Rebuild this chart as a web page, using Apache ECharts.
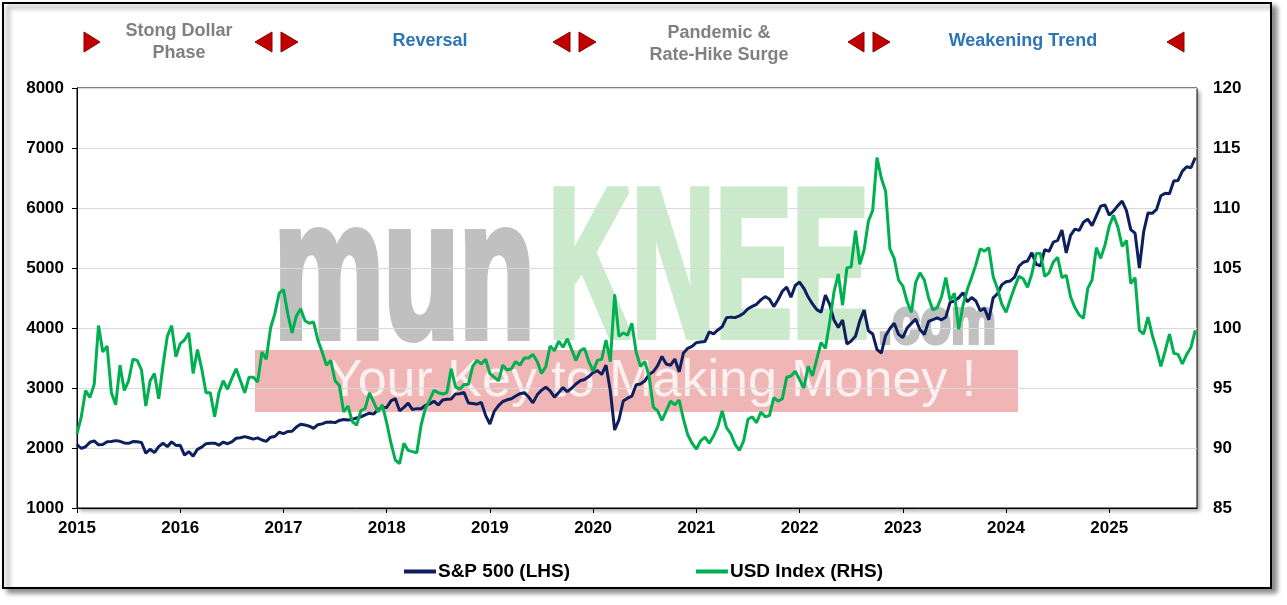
<!DOCTYPE html>
<html>
<head>
<meta charset="utf-8">
<script src="https://cdn.jsdelivr.net/npm/echarts@6/dist/echarts.min.js"></script>
<style>
html,body{margin:0;padding:0;background:#fff;}
#chart{width:1287px;height:605px;}
</style>
</head>
<body>
<div id="chart"></div>
<script>
// Observations: semi-monthly (1st and 15th of each month), Jan 2015 – Nov 2025
const startYear = 2015;
const obsPerYear = 24;

// S&P 500 (left axis)
const spx = [
  // 2015
  2058,1992,2021,2096,2117,2053,2060,2106,2108,2123,2111,2085,2077,2108,2104,2092,1914,1979,1923,2023,2079,2023,2102,2043,
  // 2016
  2044,1880,1940,1864,1978,2015,2072,2081,2081,2047,2099,2071,2103,2162,2170,2190,2170,2147,2168,2133,2111,2180,2191,2262,
  // 2017
  2239,2275,2279,2349,2396,2385,2363,2328,2388,2402,2431,2432,2423,2459,2476,2465,2476,2500,2519,2553,2580,2565,2642,2675,
  // 2018
  2674,2786,2823,2620,2678,2747,2641,2656,2654,2711,2735,2779,2718,2801,2813,2818,2902,2905,2924,2750,2740,2730,2760,2545,
  // 2019
  2400,2610,2706,2775,2803,2822,2867,2905,2923,2850,2752,2886,2964,3014,2953,2848,2926,3007,2940,2995,3067,3120,3141,3191,
  // 2020
  3258,3289,3225,3380,2954,2300,2470,2783,2830,2864,3055,3067,3115,3226,3271,3373,3526,3401,3380,3483,3270,3585,3662,3695,
  // 2021
  3756,3768,3773,3934,3901,3968,4020,4170,4181,4173,4202,4246,4320,4360,4395,4468,4524,4480,4357,4471,4613,4682,4513,4709,
  // 2022
  4766,4662,4516,4401,4306,4262,4546,4393,4132,4008,4132,3735,3785,3863,4118,4297,3955,3901,3640,3583,3872,3992,4080,3895,
  // 2023
  3840,3999,4077,4147,3970,3891,4109,4138,4169,4136,4180,4426,4450,4505,4589,4437,4508,4450,4288,4328,4137,4502,4568,4719,
  // 2024
  4770,4784,4846,5029,5096,5117,5254,5062,5036,5308,5278,5431,5460,5631,5250,5543,5648,5626,5762,5815,5705,5870,6032,6051,
  // 2025
  5882,5950,6040,6115,5955,5639,5580,5000,5604,5916,5912,5977,6205,6244,6238,6450,6460,6615,6688,6671,6840
];

// USD Index (right axis)
const usd = [
  // 2015
  91.2,92.6,94.8,94.2,95.3,100.2,98.0,98.5,94.6,93.6,96.9,94.8,95.6,97.4,97.3,96.5,93.5,95.6,96.2,94.1,96.9,99.3,100.2,97.6,
  // 2016
  98.7,99.0,99.6,96.2,98.2,96.6,94.6,94.6,92.6,94.6,95.6,94.9,95.8,96.6,95.6,94.6,95.9,95.9,95.5,98.0,97.4,100.0,101.2,102.9,
  // 2017
  103.2,101.2,99.6,101.0,101.6,100.6,100.4,100.5,99.0,98.0,96.9,97.3,95.6,95.2,93.0,93.5,92.2,91.9,93.1,93.3,94.6,93.8,93.0,93.6,
  // 2018
  92.1,90.4,89.0,88.7,90.4,89.8,89.7,89.6,91.9,93.3,94.0,94.8,94.6,94.5,94.6,96.6,95.1,94.9,95.3,95.3,96.8,97.3,97.0,97.4,
  // 2019
  96.2,95.9,95.6,96.9,96.5,96.6,97.2,96.9,97.5,97.5,97.8,97.2,96.2,96.8,98.5,98.1,98.9,98.4,99.1,98.2,97.3,98.1,98.3,97.2,
  // 2020
  96.4,97.3,97.4,99.0,97.2,102.8,99.3,99.6,99.4,100.4,98.0,96.8,97.2,96.0,93.4,93.1,92.3,93.1,93.9,93.6,94.0,92.4,91.1,90.4,
  // 2021
  89.9,90.6,90.9,90.4,91.0,91.8,93.1,91.7,91.2,90.3,89.8,90.6,92.4,92.6,92.1,93.0,92.6,92.7,94.2,93.9,94.1,95.9,96.0,96.4,
  // 2022
  95.7,95.0,96.8,96.0,97.4,98.8,98.3,100.5,103.0,104.5,101.9,105.0,105.1,108.1,105.3,106.5,108.9,109.8,114.2,112.5,111.4,106.6,105.8,104.0,
  // 2023
  103.5,102.2,101.3,103.8,104.6,104.0,102.5,101.5,101.7,102.6,104.2,102.3,102.9,99.9,101.9,103.2,104.2,105.3,106.6,106.4,106.7,104.3,103.3,102.0,
  // 2024
  101.3,102.4,103.4,104.3,104.1,103.4,104.5,106.2,106.2,104.3,104.6,105.5,105.9,104.2,104.4,102.6,101.7,101.1,100.8,103.3,104.0,106.7,105.8,106.9,
  // 2025
  108.5,109.4,108.4,106.8,107.3,103.7,104.2,99.8,99.5,100.9,99.4,98.2,96.8,98.1,99.5,97.9,97.8,97.0,97.8,98.4,99.8
];

const seriesNames = ['S&P 500 (LHS)', 'USD Index (RHS)'];
const leftTicks = {min: 1000, max: 8000, interval: 1000};
const rightTicks = {min: 85, max: 120, interval: 5};
const xRange = {min: 2015, max: 2025.85, interval: 1};
const phases = ['Stong Dollar\nPhase', 'Reversal', 'Pandemic &\nRate-Hike Surge', 'Weakening Trend'];

const toPoints = arr => arr.map((v, i) => [startYear + i / obsPerYear, v]);

const FONT = 'Liberation Sans, Arial, sans-serif';
const labelStyle = {color: '#000', fontFamily: FONT, fontWeight: 'bold', fontSize: 17};

function tri(points) {
  return {type: 'polygon', z: 5, shape: {points: points},
    style: {fill: '#c00000', stroke: '#8a0000', lineWidth: 1}};
}
function phaseText(txt, x, y, color) {
  return {type: 'text', z: 5, x: x, y: y,
    style: {text: txt, fill: color, font: 'bold 18px ' + FONT, textAlign: 'center', textVerticalAlign: 'middle', lineHeight: 22}};
}
function wmText(txt, x, y, sx, size, color, strokeW) {
  return {type: 'text', z: -9, x: x, y: y, scaleX: sx,
    style: {text: txt, fill: color, stroke: color, lineWidth: strokeW, lineJoin: 'miter',
      font: 'bold ' + size + 'px ' + FONT, textAlign: 'left', textVerticalAlign: 'middle'}};
}

const chart = echarts.init(document.getElementById('chart'), null, {renderer: 'canvas'});
chart.setOption({
  animation: false,
  backgroundColor: '#fff',
  graphic: {elements: [
    // outer frame
    {type: 'rect', z: -20, shape: {x: 3, y: 3, width: 1268, height: 585},
      style: {fill: '#fff', stroke: '#000', lineWidth: 2, shadowColor: 'rgba(0,0,0,0.45)', shadowBlur: 5, shadowOffsetX: 5, shadowOffsetY: 4}},
    // plot shadow
    {type: 'rect', z: -15, shape: {x: 77, y: 88, width: 1120, height: 420},
      style: {fill: '#fff', shadowColor: 'rgba(0,0,0,0.35)', shadowBlur: 4, shadowOffsetX: 3, shadowOffsetY: 3}},
    // watermark
    {type: 'rect', z: -10, shape: {x: 255, y: 350, width: 763, height: 62}, style: {fill: '#f0b6b6'}},
    {type: 'text', z: -9, x: 652, y: 382, style: {text: 'Your Key to Making Money !', fill: 'rgba(255,255,255,0.8)', font: '52px ' + FONT, textAlign: 'center', textVerticalAlign: 'middle'}},
    wmText('mun', 274, 283, 0.63, 196, '#c0c0c0', 8),
    wmText('KNEE', 548, 278, 0.545, 212, '#cbe9cb', 8),
    wmText('.com', 878, 325, 0.79, 64, '#c0c0c0', 4),
    // phase annotations
    tri([[84,32],[100,42],[84,52]]),
    phaseText(phases[0], 179, 42, '#808080'),
    tri([[272,32],[255,42],[272,52]]),
    tri([[281,32],[298,42],[281,52]]),
    phaseText(phases[1], 430, 41, '#2e75b6'),
    tri([[570,32],[553,42],[570,52]]),
    tri([[579,32],[596,42],[579,52]]),
    phaseText(phases[2], 719, 44, '#808080'),
    tri([[864,32],[848,42],[864,52]]),
    tri([[873,32],[890,42],[873,52]]),
    phaseText(phases[3], 1023, 41, '#2e75b6'),
    tri([[1184,32],[1167,42],[1184,52]])
  ]},
  grid: {left: 77, right: 90, top: 88, bottom: 97, show: true, borderColor: '#000', borderWidth: 1, backgroundColor: 'transparent'},
  legend: {
    data: seriesNames, top: 557, left: 'center', itemGap: 126, icon: 'rect', itemWidth: 32, itemHeight: 4,
    textStyle: {color: '#000', fontFamily: FONT, fontWeight: 'bold', fontSize: 19, padding: [0,0,0,-3]}
  },
  xAxis: {
    type: 'value', min: xRange.min, max: xRange.max, interval: xRange.interval,
    axisLine: {lineStyle: {color: '#000', width: 1}},
    axisTick: {show: true, inside: false, length: 5, lineStyle: {color: '#000'}},
    splitLine: {show: false},
    axisLabel: Object.assign({margin: 12, showMaxLabel: false, formatter: v => (Math.abs(v - Math.round(v)) < 1e-6 ? String(Math.round(v)) : '')}, labelStyle)
  },
  yAxis: [
    {type: 'value', min: leftTicks.min, max: leftTicks.max, interval: leftTicks.interval, position: 'left',
      axisLine: {show: true, lineStyle: {color: '#000'}},
      axisTick: {show: true, inside: false, length: 5, lineStyle: {color: '#000'}},
      splitLine: {show: true, lineStyle: {color: '#d9d9d9', width: 1}},
      axisLabel: Object.assign({margin: 13, formatter: v => String(v)}, labelStyle)},
    {type: 'value', min: rightTicks.min, max: rightTicks.max, interval: rightTicks.interval, position: 'right',
      axisLine: {show: false}, axisTick: {show: false}, splitLine: {show: false},
      axisLabel: Object.assign({margin: 16, formatter: v => String(v)}, labelStyle)}
  ],
  series: [
    {name: seriesNames[0], type: 'line', yAxisIndex: 0, data: toPoints(spx), showSymbol: false, symbol: 'none',
      lineStyle: {color: '#0d1f5c', width: 3}, itemStyle: {color: '#0d1f5c'}, z: 3},
    {name: seriesNames[1], type: 'line', yAxisIndex: 1, data: toPoints(usd), showSymbol: false, symbol: 'none',
      lineStyle: {color: '#00b050', width: 3}, itemStyle: {color: '#00b050'}, z: 4}
  ]
});
</script>
</body>
</html>
